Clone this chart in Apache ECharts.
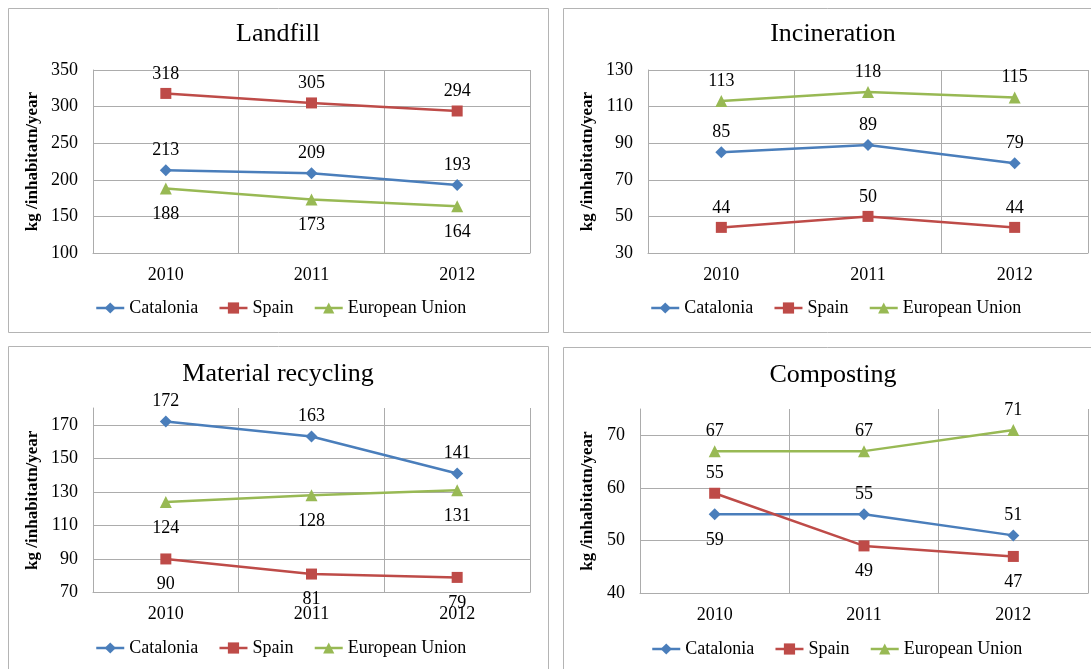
<!DOCTYPE html>
<html>
<head>
<meta charset="utf-8">
<script src="https://cdn.jsdelivr.net/npm/echarts@6/dist/echarts.min.js"></script>
<style>
  html, body { margin: 0; padding: 0; background: #fff; }
  #chart { width: 1091px; height: 669px; }
</style>
</head>
<body>
<div id="chart"></div>
<script>
  const years = ["2010", "2011", "2012"];
  const seriesNames = ["Catalonia", "Spain", "European Union"];

  const landfillCatalonia = [213, 209, 193];
  const landfillSpain = [318, 305, 294];
  const landfillEU = [188, 173, 164];

  const incinerationCatalonia = [85, 89, 79];
  const incinerationSpain = [44, 50, 44];
  const incinerationEU = [113, 118, 115];

  const recyclingCatalonia = [172, 163, 141];
  const recyclingSpain = [90, 81, 79];
  const recyclingEU = [124, 128, 131];

  const compostingCatalonia = [55, 55, 51];
  const compostingSpain = [59, 49, 47];
  const compostingEU = [67, 67, 71];
  // the source chart prints these two 2010 labels swapped, keep the printed text
  const compostingCataloniaLabels = ["59", "55", "51"];
  const compostingSpainLabels = ["55", "49", "47"];

  const yAxisName = "kg /inhabitatn/year";

  const FONT = "'Times New Roman', 'Liberation Serif', serif";
  const GRID_GRAY = "#acacac";
  const BORDER_GRAY = "#b4b4b4";
  const COLORS = { "Catalonia": "#4a7ebb", "Spain": "#be4b48", "European Union": "#98b954" };
  const SYMBOLS = {
    "Catalonia": { symbol: "diamond", size: 12 },
    "Spain": { symbol: "rect", size: 11 },
    "European Union": { symbol: "triangle", size: 12 }
  };

  const panels = [
    {
      title: "Landfill", box: [8, 8, 540, 324], titleTop: 21,
      grid: { left: 93, top: 70, width: 437, height: 183 },
      min: 100, max: 350, interval: 50, nameGap: 52,
      legend: { left: 95, top: 299 },
      series: [
        { name: "Catalonia", values: landfillCatalonia, pos: ["top", "top", "top"] },
        { name: "Spain", values: landfillSpain, pos: ["top", "top", "top"] },
        { name: "European Union", values: landfillEU, pos: ["bottom", "bottom", "bottom"] }
      ]
    },
    {
      title: "Incineration", box: [563, 8, 540, 324], titleTop: 21,
      grid: { left: 648, top: 70, width: 440, height: 183 },
      min: 30, max: 130, interval: 20, nameGap: 52,
      legend: { left: 650, top: 299 },
      series: [
        { name: "Catalonia", values: incinerationCatalonia, pos: ["top", "top", "top"] },
        { name: "Spain", values: incinerationSpain, pos: ["top", "top", "top"] },
        { name: "European Union", values: incinerationEU, pos: ["top", "top", "top"] }
      ]
    },
    {
      title: "Material recycling", box: [8, 346, 540, 340], titleTop: 361,
      grid: { left: 93, top: 408, width: 437, height: 184.5 },
      min: 70, max: 180, interval: 20, nameGap: 52,
      legend: { left: 95, top: 639 },
      series: [
        { name: "Catalonia", values: recyclingCatalonia, pos: ["top", "top", "top"] },
        { name: "Spain", values: recyclingSpain, pos: ["bottom", "bottom", "bottom"] },
        { name: "European Union", values: recyclingEU, pos: ["bottom", "bottom", "bottom"] }
      ]
    },
    {
      title: "Composting", box: [563, 347, 540, 340], titleTop: 362,
      grid: { left: 640, top: 409, width: 448, height: 184.3 },
      min: 40, max: 75, interval: 10, nameGap: 44,
      legend: { left: 651, top: 640 },
      series: [
        { name: "Catalonia", values: compostingCatalonia, pos: ["bottom", "top", "top"], labels: compostingCataloniaLabels },
        { name: "Spain", values: compostingSpain, pos: ["top", "bottom", "bottom"], labels: compostingSpainLabels },
        { name: "European Union", values: compostingEU, pos: ["top", "top", "top"] }
      ]
    }
  ];

  function splitColors(p) {
    const colors = [];
    for (let v = p.min; v <= p.max; v += p.interval) {
      colors.push(GRID_GRAY);
    }
    if ((p.max - p.min) % p.interval !== 0) {
      colors.push("rgba(0,0,0,0)");
    }
    return colors;
  }

  const option = {
    animation: false,
    backgroundColor: "#fff",
    textStyle: { fontFamily: FONT, color: "#000" },
    title: [],
    legend: [],
    grid: [],
    xAxis: [],
    yAxis: [],
    series: [],
    graphic: []
  };

  panels.forEach((p, idx) => {
    option.graphic.push({
      type: "rect",
      shape: { x: p.box[0] + 0.5, y: p.box[1] + 0.5, width: p.box[2], height: p.box[3] },
      style: { fill: "none", stroke: BORDER_GRAY, lineWidth: 1 },
      silent: true
    });

    option.title.push({
      text: p.title,
      left: p.box[0] + p.box[2] / 2,
      top: p.titleTop,
      textAlign: "center",
      padding: 0,
      textStyle: { fontFamily: FONT, fontSize: 26, fontWeight: "normal", color: "#000" }
    });

    option.legend.push({
      data: seriesNames,
      left: p.legend.left,
      top: p.legend.top,
      padding: 0,
      itemWidth: 28,
      itemHeight: 14,
      itemGap: 20,
      lineStyle: { width: 2.5 },
      textStyle: { fontFamily: FONT, fontSize: 18, color: "#000" }
    });

    option.grid.push(Object.assign({ containLabel: false }, p.grid));

    option.xAxis.push({
      type: "category",
      gridIndex: idx,
      data: years,
      boundaryGap: true,
      axisLine: { lineStyle: { color: GRID_GRAY, width: 1 } },
      axisTick: { show: false },
      axisLabel: { margin: 13, fontFamily: FONT, fontSize: 18, color: "#000" },
      splitLine: { show: true, lineStyle: { color: GRID_GRAY, width: 1 } }
    });

    option.yAxis.push({
      type: "value",
      gridIndex: idx,
      min: p.min,
      max: p.max,
      interval: p.interval,
      name: yAxisName,
      nameLocation: "middle",
      nameGap: p.nameGap,
      nameTextStyle: { fontFamily: FONT, fontSize: 17, fontWeight: "bold", color: "#000" },
      axisLine: { show: true, lineStyle: { color: GRID_GRAY, width: 1 } },
      axisTick: { show: false },
      axisLabel: {
        margin: 15, fontFamily: FONT, fontSize: 18, color: "#000",
        showMaxLabel: (p.max - p.min) % p.interval === 0
      },
      splitLine: { show: true, lineStyle: { color: splitColors(p), width: 1 } }
    });

    p.series.forEach((s) => {
      option.series.push({
        name: s.name,
        type: "line",
        xAxisIndex: idx,
        yAxisIndex: idx,
        symbol: SYMBOLS[s.name].symbol,
        symbolSize: SYMBOLS[s.name].size,
        color: COLORS[s.name],
        lineStyle: { width: 2.5, color: COLORS[s.name] },
        itemStyle: { color: COLORS[s.name] },
        z: 3,
        data: s.values.map((v, i) => ({
          value: v,
          label: {
            show: true,
            position: s.pos[i],
            distance: s.pos[i] === "top" ? 5 : 11,
            formatter: s.labels ? s.labels[i] : String(v),
            fontFamily: FONT,
            fontSize: 18,
            color: "#000"
          }
        }))
      });
    });
  });

  const chart = echarts.init(document.getElementById("chart"), null, { renderer: "canvas" });
  chart.setOption(option);
</script>
</body>
</html>
